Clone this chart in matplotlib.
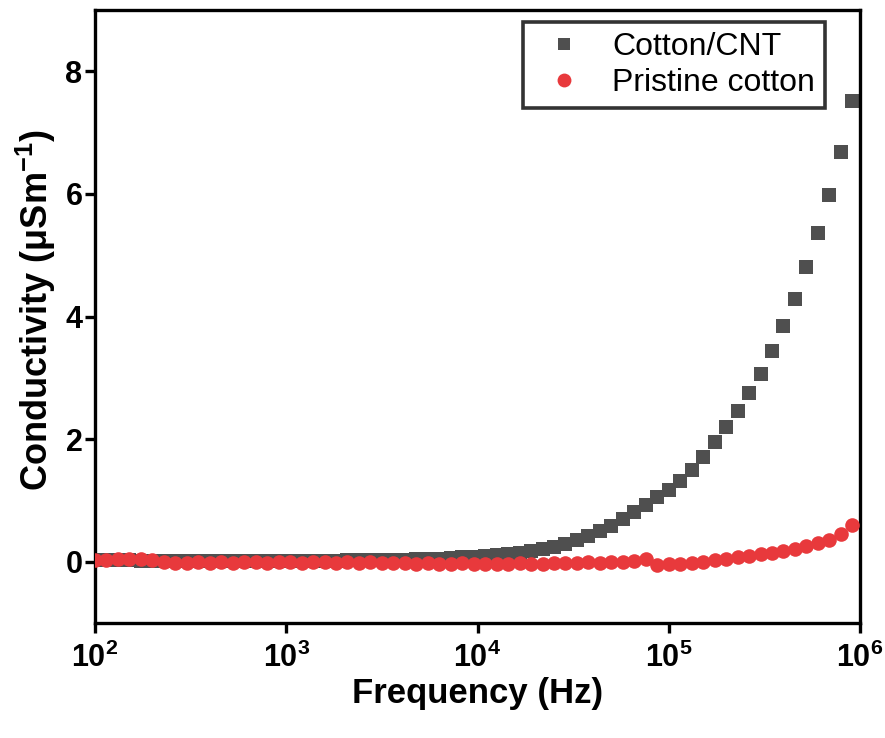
import matplotlib
matplotlib.use("Agg")
import matplotlib.pyplot as plt
from matplotlib.ticker import FixedLocator, NullLocator, LogFormatterMathtext

# Frequency sweep (Hz)
freq = [100, 114.8, 131.8, 151.4, 173.8, 199.5, 229.1, 263.0, 302.0, 346.7,
        398.1, 457.1, 524.8, 602.6, 691.8, 794.3, 912.0, 1047, 1202, 1380,
        1585, 1820, 2089, 2399, 2754, 3162, 3631, 4169, 4786, 5495,
        6310, 7244, 8318, 9550, 10965, 12589, 14454, 16596, 19055, 21878,
        25119, 28840, 33113, 38019, 43652, 50119, 57544, 66069, 75858, 87096,
        100000, 114815, 131826, 151356, 173780, 199526, 229087, 263027, 301995, 346737,
        398107, 457088, 524807, 602560, 691831, 794328, 912011]

# Conductivity (uS/m)
cotton_cnt = [0.02, 0.02, 0.02, 0.02, 0.01, 0.01, 0.01, 0.01, 0.01, 0.01,
              0.01, 0.01, 0.01, 0.01, 0.01, 0.01, 0.01, 0.01, 0.01, 0.01,
              0.01, 0.01, 0.02, 0.02, 0.02, 0.02, 0.03, 0.03, 0.04, 0.04,
              0.05, 0.06, 0.07, 0.08, 0.10, 0.11, 0.13, 0.15, 0.18, 0.21,
              0.24, 0.29, 0.35, 0.42, 0.50, 0.59, 0.70, 0.81, 0.93, 1.06,
              1.17, 1.32, 1.49, 1.71, 1.95, 2.20, 2.46, 2.75, 3.07, 3.43,
              3.85, 4.29, 4.80, 5.37, 5.98, 6.68, 7.51]

pristine = [0.02, 0.03, 0.04, 0.05, 0.04, 0.02, 0.00, -0.02, -0.02, -0.01,
            -0.02, -0.01, -0.02, -0.01, -0.01, -0.02, -0.01, -0.01, -0.02, -0.01,
            -0.01, -0.02, -0.01, -0.02, -0.01, -0.02, -0.02, -0.02, -0.03, -0.02,
            -0.03, -0.03, -0.02, -0.03, -0.03, -0.03, -0.03, -0.02, -0.03, -0.03,
            -0.02, -0.02, -0.02, -0.01, -0.02, -0.01, 0.00, 0.01, 0.04, -0.05,
            -0.04, -0.03, -0.02, 0.00, 0.02, 0.05, 0.07, 0.09, 0.12, 0.15,
            0.17, 0.21, 0.26, 0.30, 0.36, 0.46, 0.60]

series_labels = ["Cotton/CNT", "Pristine cotton"]
x_ticks = [1e2, 1e3, 1e4, 1e5, 1e6]
y_ticks = [0, 2, 4, 6, 8]

plt.rcParams["font.family"] = ["Liberation Sans", "DejaVu Sans"]
plt.rcParams["mathtext.fontset"] = "custom"
plt.rcParams["mathtext.rm"] = "Liberation Sans:bold"
plt.rcParams["mathtext.it"] = "Liberation Sans:bold"
plt.rcParams["mathtext.bf"] = "Liberation Sans:bold"
plt.rcParams["mathtext.default"] = "regular"

fig = plt.figure(figsize=(8.85, 7.38), dpi=100)
ax = fig.add_axes([95 / 885, 115 / 738, 765 / 885, 613 / 738])

ax.plot(freq, cotton_cnt, linestyle="none", marker="s", markersize=9.5,
        markeredgewidth=0, color="#4f4f4f", label=series_labels[0], zorder=2)
ax.plot(freq, pristine, linestyle="none", marker="o", markersize=10.5,
        markeredgewidth=0, color="#e8393c", label=series_labels[1], zorder=3)

ax.set_xscale("log")
ax.set_xlim(1e2, 1e6)
ax.set_ylim(-1, 9)
ax.xaxis.set_major_locator(FixedLocator(x_ticks))
ax.xaxis.set_minor_locator(NullLocator())
ax.xaxis.set_major_formatter(LogFormatterMathtext())
ax.set_yticks(y_ticks)

for s in ax.spines.values():
    s.set_linewidth(2.4)
ax.tick_params(axis="both", which="major", direction="out", length=7.5,
               width=2.4, top=False, right=False)
ax.tick_params(axis="x", pad=7)
ax.tick_params(axis="y", pad=1.5)
for lab in ax.get_xticklabels() + ax.get_yticklabels():
    lab.set_fontweight("bold")
    lab.set_fontsize(22)

ax.set_xlabel("Frequency (Hz)", fontweight="bold", fontsize=25, labelpad=2)
ax.set_ylabel("Conductivity (\u03bcSm$^{-1}$)", fontweight="bold", fontsize=26)
ax.yaxis.set_label_coords(-0.049, 0.511)

leg = ax.legend(loc="upper right", bbox_to_anchor=(0.954, 0.98),
                fontsize=23, frameon=True, fancybox=False, borderpad=0.3,
                handletextpad=0.5, labelspacing=0.2, handlelength=2.0,
                markerscale=0.95, borderaxespad=0)
leg.get_frame().set_edgecolor("black")
leg.get_frame().set_linewidth(2.6)

fig.savefig("out.png", dpi=100)
